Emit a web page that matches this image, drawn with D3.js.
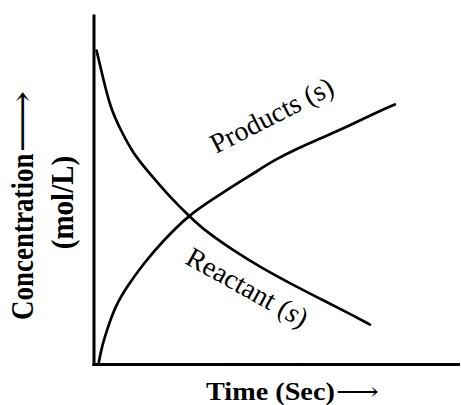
<!DOCTYPE html>
<html>
<head>
<meta charset="utf-8">
<script src="https://cdn.jsdelivr.net/npm/d3@7"></script>
<style>
  html, body { margin: 0; padding: 0; background: #fff; }
  svg { display: block; }
</style>
</head>
<body>
<svg id="chart" width="461" height="405"></svg>
<script>
// Time (arbitrary units) and concentration (relative, 0–100)
const reactantTime = [0.7, 2.1, 4.4, 7.1, 10.7, 15.3, 20.8, 25.8, 30.8, 38.1, 45.4, 54.6, 63.6, 69.9, 75.4];
const reactantConc = [89.7, 83.5, 73.5, 67.4, 60.2, 54.5, 47.8, 42.6, 37.8, 32.6, 27.8, 22.6, 17.8, 14.5, 11.4];
const productTime = [1.2, 2.1, 3.5, 5.7, 8.9, 13.5, 18.9, 25.8, 32.6, 38.1, 43.5, 49.0, 56.3, 61.7, 69.9, 76.3, 82.2];
const productConc = [0, 4.9, 9.7, 16.4, 22.1, 28.8, 35.4, 42.6, 47.3, 51.1, 54.5, 58.3, 62.1, 64.5, 68.3, 71.6, 74.3];

const xTitle = "Time (Sec)";
const yTitle = ["Concentration", "(mol/L)"];
const arrow = "\u27F6";

const svg = d3.select("#chart");
const x = d3.scaleLinear().domain([0, 100]).range([94, 460]);
const y = d3.scaleLinear().domain([0, 100]).range([364.5, 14.5]);

const line = d3.line()
  .x(d => x(d[0]))
  .y(d => y(d[1]))
  .curve(d3.curveBasis);

const reactant = reactantTime.map((t, i) => [t, reactantConc[i]]);
const products = productTime.map((t, i) => [t, productConc[i]]);

[reactant, products].forEach(data => {
  svg.append("path")
    .attr("d", line(data))
    .attr("fill", "none")
    .attr("stroke", "#000")
    .attr("stroke-width", 2.7)
    .attr("stroke-linecap", "round")
    .attr("stroke-linejoin", "round");
});

// Axes: plain lines with no ticks
const xAxis = d3.axisBottom(x).tickValues([]).tickSizeOuter(0);
const yAxis = d3.axisLeft(y).tickValues([]).tickSizeOuter(0);
svg.append("g").attr("transform", `translate(0,${y(0)})`).call(xAxis)
  .call(g => g.select(".domain").attr("stroke", "#000").attr("stroke-width", 3)
    .attr("d", `M${x(0) - 1.5},0H${x(100)}`));
svg.append("g").attr("transform", `translate(${x(0)},0)`).call(yAxis)
  .call(g => g.select(".domain").attr("stroke", "#000").attr("stroke-width", 3)
    .attr("d", `M0,${y(100)}V${y(0) + 1.5}`));

const serif = "'Liberation Serif', 'Times New Roman', 'DejaVu Serif', serif";

// Curve labels
svg.append("text")
  .attr("transform", "translate(216,154) rotate(-27)")
  .attr("font-family", serif)
  .attr("font-size", 28)
  .text("Products (s)");

const rl = svg.append("text")
  .attr("transform", "translate(184,263) rotate(29)")
  .attr("font-family", serif)
  .attr("font-size", 28);
rl.append("tspan").text("Reactant (");
rl.append("tspan").attr("font-style", "italic").text("s");
rl.append("tspan").text(")");

// Axis titles (wide bold type), each followed by a stretched long arrow
function titleWithArrow(g, label, size, arrowLen) {
  const t = g.append("text")
    .attr("font-family", serif)
    .attr("font-weight", "bold")
    .attr("font-size", size)
    .text(label);
  const w = t.node().getComputedTextLength();
  g.append("text")
    .attr("x", w + 1)
    .attr("font-family", serif)
    .attr("font-size", size)
    .attr("textLength", arrowLen)
    .attr("lengthAdjust", "spacingAndGlyphs")
    .text(arrow);
}

titleWithArrow(svg.append("g").attr("transform", "translate(206,400) scale(1.13,1)"), xTitle, 25, 38);
titleWithArrow(svg.append("g").attr("transform", "translate(33,320) scale(1.2,1) rotate(-90)"), yTitle[0], 27, 62);

svg.append("text")
  .attr("transform", "translate(73,202.5) scale(1.1,1) rotate(-90)")
  .attr("text-anchor", "middle")
  .attr("font-family", serif)
  .attr("font-weight", "bold")
  .attr("font-size", 29)
  .text(yTitle[1]);
</script>
</body>
</html>
